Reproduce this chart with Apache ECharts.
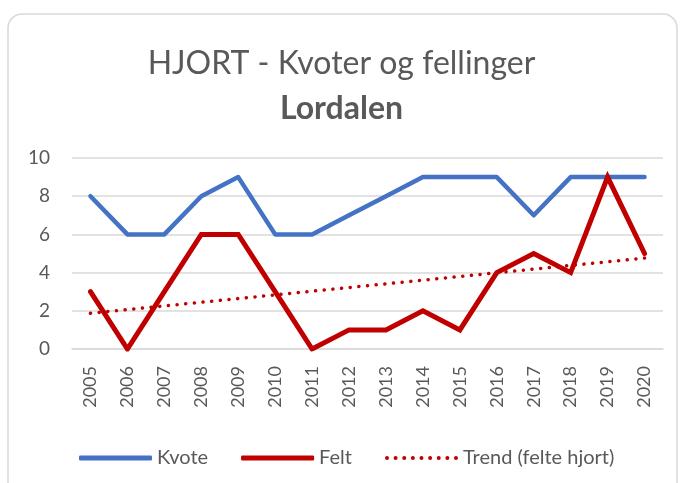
<!DOCTYPE html>
<html>
<head>
<meta charset="utf-8">
<title>HJORT - Kvoter og fellinger</title>
<script src="https://cdn.jsdelivr.net/npm/echarts@6/dist/echarts.min.js"></script>
<style>
  html, body { margin: 0; padding: 0; background: #fff; }
  #main { width: 683px; height: 483px; }
</style>
</head>
<body>
<div id="main"></div>
<script>
// data
var years = ['2005','2006','2007','2008','2009','2010','2011','2012','2013','2014','2015','2016','2017','2018','2019','2020'];
var kvote = [8, 6, 6, 8, 9, 6, 6, 7, 8, 9, 9, 9, 7, 9, 9, 9];
var felt  = [3, 0, 3, 6, 6, 3, 0, 1, 1, 2, 1, 4, 5, 4, 9, 5];
// trend line ends as seen on chart (first and last year)
var trendStart = 1.87;
var trendEnd = 4.76;

var trend = years.map(function (y, i) {
  if (i === 0) return trendStart;
  if (i === years.length - 1) return trendEnd;
  return null;
});

var txt = '#595959';
var font = 'Lato';

// dotted legend icon: a row of small dots
var dots = '';
for (var k = 0; k < 9; k++) {
  var cx = k * 8.6;
  dots += 'M' + cx + ',2a2,2 0 1,0 4,0a2,2 0 1,0 -4,0';
}

var chart = echarts.init(document.getElementById('main'));
chart.setOption({
  animation: false,
  textStyle: { fontFamily: font },
  graphic: [{
    type: 'rect',
    shape: { x: 8, y: 14, width: 669, height: 490, r: 14 },
    style: { fill: '#fff', stroke: '#D9D9D9', lineWidth: 1.5 },
    z: -10
  }],
  title: {
    text: 'HJORT - Kvoter og fellinger',
    subtext: 'Lordalen',
    left: 'center',
    top: 43,
    itemGap: 13,
    textStyle: { fontFamily: font, fontSize: 32, fontWeight: 'normal', color: txt },
    subtextStyle: { fontFamily: font, fontSize: 32, fontWeight: 'bold', color: txt }
  },
  legend: {
    top: 443,
    left: 74,
    itemWidth: 73,
    itemHeight: 5,
    itemGap: 33,
    textStyle: { fontSize: 20, lineHeight: 20, color: txt, fontFamily: font },
    data: [
      { name: 'Kvote', icon: 'roundRect' },
      { name: 'Felt', icon: 'roundRect' },
      { name: 'Trend (felte hjort)', icon: 'path://' + dots }
    ]
  },
  grid: { left: 72, right: 20, top: 158, bottom: 134 },
  xAxis: {
    type: 'category',
    data: years,
    boundaryGap: true,
    axisLine: { lineStyle: { color: '#D9D9D9', width: 1.5 } },
    axisTick: { show: false },
    axisLabel: { rotate: 90, color: txt, fontSize: 18, margin: 17, fontFamily: font }
  },
  yAxis: {
    type: 'value',
    min: 0,
    max: 10,
    interval: 2,
    axisLine: { show: false },
    axisTick: { show: false },
    axisLabel: { color: txt, fontSize: 19, margin: 22, fontFamily: font },
    splitLine: { lineStyle: { color: '#D9D9D9', width: 1.5 } }
  },
  series: [{
    name: 'Kvote',
    type: 'line',
    data: kvote,
    symbol: 'none',
    lineStyle: { color: '#4472C4', width: 4.5, cap: 'round', join: 'round' },
    itemStyle: { color: '#4472C4' }
  }, {
    name: 'Felt',
    type: 'line',
    data: felt,
    symbol: 'none',
    lineStyle: { color: '#C00000', width: 5, cap: 'round', join: 'miter' },
    itemStyle: { color: '#C00000' },
    z: 3
  }, {
    name: 'Trend (felte hjort)',
    type: 'line',
    data: trend,
    connectNulls: true,
    symbol: 'none',
    lineStyle: { color: '#C00000', width: 3.5, type: [0.1, 8.6], cap: 'round' },
    itemStyle: { color: '#C00000' },
    z: 4
  }]
});
</script>
</body>
</html>
